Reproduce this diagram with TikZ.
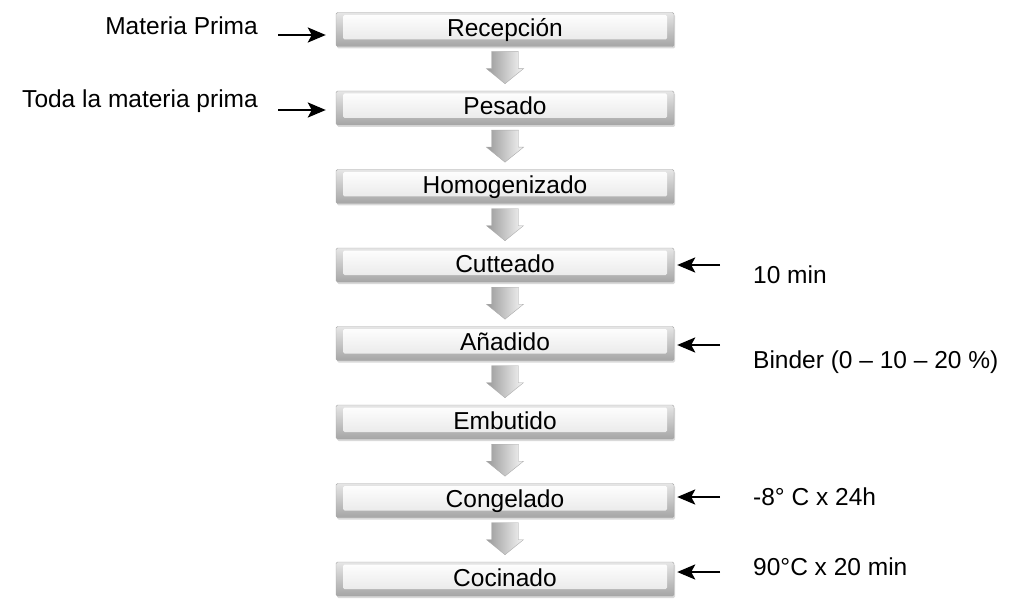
\documentclass[tikz,border=0pt]{standalone}
\usepackage{fontspec}
\setmainfont{Liberation Sans}
\usetikzlibrary{shadows,arrows.meta}
\begin{document}
\begin{tikzpicture}[x=1pt,y=-1pt,
  lbl/.style={font=\fontsize{24.5}{29}\selectfont, inner sep=0pt},
  procbox/.style={draw=gray!70, rounded corners=1.5pt, minimum width=338pt, minimum height=34pt,
    inner sep=0pt, top color=gray!20, bottom color=gray!70,
    text height=18pt, text depth=4pt, font=\fontsize{24.5}{29}\selectfont,
    drop shadow={opacity=0.3, shadow xshift=1pt, shadow yshift=-2pt},
    path picture={\shade[top color=white, bottom color=gray!20]
      ([shift={(7pt,-2.5pt)}]path picture bounding box.north west) rectangle
      ([shift={(-7pt,7pt)}]path picture bounding box.south east);}},
  inarrow/.style={line width=2.4pt, -{Stealth[length=18pt,width=15pt,inset=4pt]}},
  blockarrow/.pic={\shade[left color=gray!80, right color=gray!8, draw=gray!65, line width=0.4pt]
    (-13.5,0) -- (13.5,0) -- (13.5,17) -- (18.5,17) -- (0,32) -- (-18.5,17) -- (-13.5,17) -- cycle;}
]
\useasboundingbox (0,0) rectangle (1018,599);
% process boxes
\node[procbox] (b1) at (505,29.5) {Recepción};
\node[procbox] (b2) at (505,108) {Pesado};
\node[procbox] (b3) at (505,186.5) {Homogenizado};
\node[procbox] (b4) at (505,265) {Cutteado};
\node[procbox] (b5) at (505,343.5) {Añadido};
\node[procbox] (b6) at (505,422) {Embutido};
\node[procbox] (b7) at (505,500.5) {Congelado};
\node[procbox] (b8) at (505,579) {Cocinado};
% block arrows
\foreach \i in {1,...,7} {
  \path (b\i.south) ++(0,5) pic {blockarrow};
}
% left inputs
\node[lbl, anchor=base east] (t1) at (258,35) {Materia Prima};
\node[lbl, anchor=base east] (t2) at (258,108) {Toda la materia prima};
\coordinate (l1) at (278,35);
\coordinate (l2) at (278,110);
\draw[inarrow, shorten >=10pt] (l1) -- (l1 -| b1.west);
\draw[inarrow, shorten >=10pt] (l2) -- (l2 -| b2.west);
% right inputs
\node[lbl, anchor=base west] (r4) at (753,283) {10 min};
\node[lbl, anchor=base west] (r5) at (753,368) {Binder (0 – 10 – 20 \%)};
\node[lbl, anchor=base west] (r7) at (753,505) {-8° C x 24h};
\node[lbl, anchor=base west] (r8) at (753,575) {90°C x 20 min};
\coordinate (c4) at (720,265);
\coordinate (c5) at (720,345);
\coordinate (c7) at (720,497);
\coordinate (c8) at (720,572);
\draw[inarrow, shorten >=3pt] (c4) -- (c4 -| b4.east);
\draw[inarrow, shorten >=3pt] (c5) -- (c5 -| b5.east);
\draw[inarrow, shorten >=3pt] (c7) -- (c7 -| b7.east);
\draw[inarrow, shorten >=3pt] (c8) -- (c8 -| b8.east);
\end{tikzpicture}
\end{document}
